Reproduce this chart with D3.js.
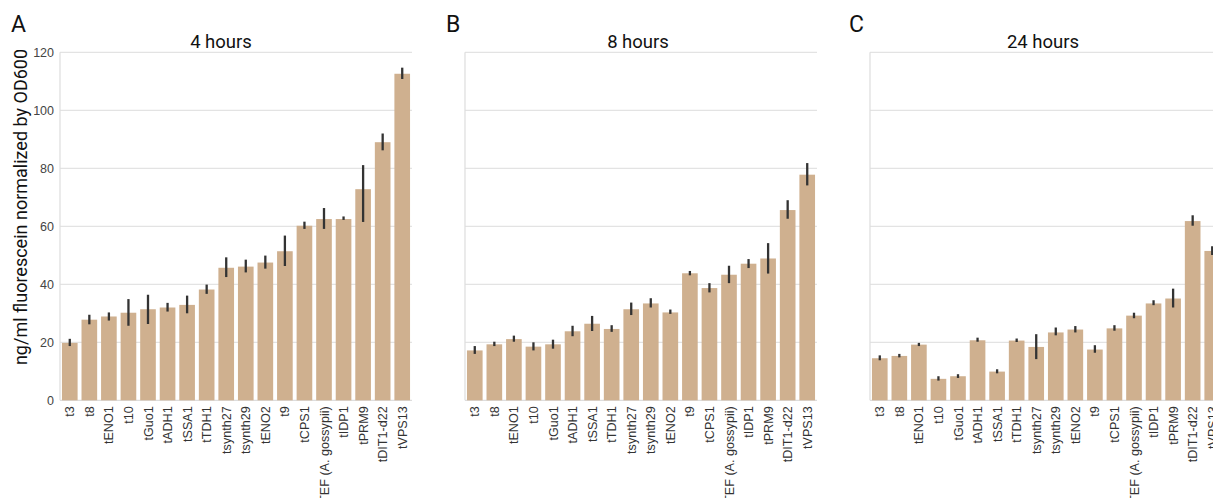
<!DOCTYPE html>
<html><head><meta charset="utf-8">
<script src="https://cdn.jsdelivr.net/npm/d3@7"></script>
<style>body{margin:0;background:#fff;}svg{display:block;}</style>
</head><body>
<svg id="chart" width="1213" height="498"></svg>
<script>
const categories = ["t3","t8","tENO1","t10","tGuo1","tADH1","tSSA1","tTDH1","tsynth27","tsynth29","tENO2","t9","tCPS1","tTEF (A. gossypii)","tIDP1","tPRM9","tDIT1-d22","tVPS13"];
const yTicks = [0,20,40,60,80,100,120];
const panelTitles = ["4 hours","8 hours","24 hours"];
const panelLetters = ["A","B","C"];
const yLabel = "ng/ml fluorescein normalized by OD600";

const values4h = [19.8,27.8,28.9,30.2,31.4,32.0,32.9,38.2,45.7,46.1,47.5,51.4,60.2,62.5,62.5,72.8,89.0,112.6];
const lo4h = [18.7,26.2,27.5,25.7,26.3,30.6,30.0,36.7,42.5,44.1,45.4,46.3,59.1,59.1,62.2,61.5,86.2,110.8];
const hi4h = [21.2,29.5,30.3,34.9,36.4,33.6,36.1,39.9,49.3,48.5,49.9,56.8,61.6,66.3,63.4,81.1,92.0,114.7];

const values8h = [17.2,19.3,21.1,18.5,19.3,23.8,26.4,24.6,31.4,33.4,30.3,43.8,38.7,43.3,47.1,48.9,65.6,77.8];
const lo8h = [16.0,18.7,20.2,17.2,17.8,22.1,23.9,23.6,29.4,32.0,29.8,43.1,37.2,40.4,45.6,43.7,62.6,74.1];
const hi8h = [18.7,20.2,22.3,20.0,20.9,25.7,29.1,25.9,33.7,35.2,31.3,44.6,40.4,46.4,48.7,54.2,69.0,81.8];

const values24h = [14.5,15.3,19.2,7.4,8.3,20.7,9.9,20.6,18.4,23.4,24.4,17.5,24.8,29.2,33.4,35.1,61.8,51.5];
const lo24h = [13.8,14.8,18.7,6.8,7.7,20.2,9.3,20.1,14.2,22.4,23.4,16.4,24.0,28.3,32.8,32.0,60.2,50.1];
const hi24h = [15.5,16.0,19.8,8.3,9.0,21.6,10.7,21.3,22.8,25.1,25.6,19.0,25.9,30.2,34.5,38.5,63.8,53.1];

const series = [
  {v: values4h, lo: lo4h, hi: hi4h},
  {v: values8h, lo: lo8h, hi: hi8h},
  {v: values24h, lo: lo24h, hi: hi24h}
];

const layout = [
  {x0: 60, x1: 412, titleX: 221, letterX: 11},
  {x0: 465, x1: 817, titleX: 638, letterX: 446},
  {x0: 870, x1: 1222, titleX: 1043, letterX: 849}
];
const yTop = 52.3, yBot = 400.3;
const barColor = "#cfb08f";
const gridColor = "#dddddd";

const svg = d3.select("#chart");
const y = d3.scaleLinear().domain([0,120]).range([yBot, yTop]);

series.forEach((s, i) => {
  const L = layout[i];
  const x = d3.scaleBand().domain(categories).range([L.x0, L.x1]).paddingInner(0.2).paddingOuter(0.1);
  const g = svg.append("g");

  g.selectAll("line.grid").data(yTicks.filter(t => t > 0)).enter().append("line")
    .attr("x1", L.x0).attr("x2", L.x1)
    .attr("y1", d => y(d)).attr("y2", d => y(d))
    .attr("stroke", gridColor).attr("stroke-width", 1);

  g.append("line").attr("x1", L.x0).attr("x2", L.x0).attr("y1", yTop).attr("y2", yBot)
    .attr("stroke", gridColor).attr("stroke-width", 1.2);
  g.append("line").attr("x1", L.x0).attr("x2", L.x1).attr("y1", yBot).attr("y2", yBot)
    .attr("stroke", gridColor).attr("stroke-width", 1.2);

  g.selectAll("rect.bar").data(s.v).enter().append("rect")
    .attr("x", (d, j) => x(categories[j]))
    .attr("width", x.bandwidth())
    .attr("y", d => y(d))
    .attr("height", d => y(0) - y(d))
    .attr("fill", barColor);

  g.selectAll("line.err").data(s.v).enter().append("line")
    .attr("x1", (d, j) => x(categories[j]) + x.bandwidth() / 2)
    .attr("x2", (d, j) => x(categories[j]) + x.bandwidth() / 2)
    .attr("y1", (d, j) => y(s.lo[j]))
    .attr("y2", (d, j) => y(s.hi[j]))
    .attr("stroke", "#333").attr("stroke-width", 2.3);

  g.selectAll("text.xl").data(categories).enter().append("text")
    .attr("transform", d => `translate(${x(d) + x.bandwidth() / 2 + 4.5},${yBot + 6}) rotate(-90)`)
    .attr("text-anchor", "end")
    .attr("font-family", "Liberation Sans, Arial, sans-serif")
    .attr("font-size", 12.6)
    .attr("fill", "#333")
    .text(d => d);

  if (i === 0) {
    g.selectAll("text.yl").data(yTicks).enter().append("text")
      .attr("x", L.x0 - 6).attr("y", d => y(d) + 4.5)
      .attr("text-anchor", "end")
      .attr("font-family", "Liberation Sans, Arial, sans-serif")
      .attr("font-size", 12.5)
      .attr("fill", "#444")
      .text(d => d);
  }

  svg.append("text").attr("x", L.titleX).attr("y", 48)
    .attr("text-anchor", "middle")
    .attr("font-family", "Roboto, sans-serif").attr("font-size", 18.5).attr("fill", "#111")
    .text(panelTitles[i]);

  svg.append("text").attr("x", L.letterX).attr("y", 32)
    .attr("font-family", "Roboto, sans-serif").attr("font-size", 23).attr("fill", "#111")
    .text(panelLetters[i]);
});

svg.append("text")
  .attr("transform", `translate(27,207) rotate(-90)`)
  .attr("text-anchor", "middle")
  .attr("font-family", "Roboto, sans-serif").attr("font-size", 18).attr("fill", "#111")
  .text(yLabel);
</script>
</body></html>
